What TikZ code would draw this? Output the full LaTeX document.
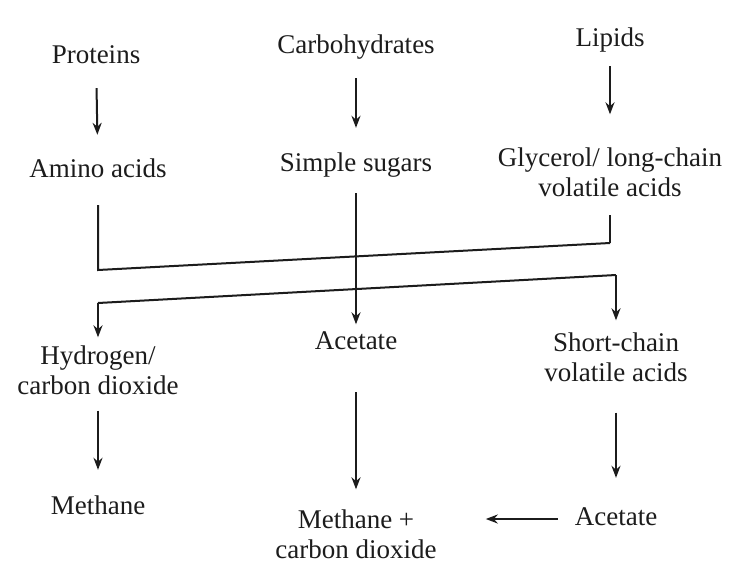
\documentclass[tikz,border=0pt]{standalone}
\usepackage{fontspec}
\setmainfont{Liberation Serif}
\usetikzlibrary{positioning,arrows.meta}
\definecolor{inkblack}{HTML}{1C1C1C}
\begin{document}
\begin{tikzpicture}[x=1pt, y=-1pt, font=\fontsize{27}{30}\selectfont,
  lbl/.style={inner sep=0pt, text=inkblack, text height=19pt, text depth=6pt},
  lbltwo/.style={inner sep=0pt, text=inkblack, align=center},
  flow/.style={-{Stealth[length=12pt,width=9pt]}, line width=2pt, inkblack, shorten <=20pt, shorten >=20pt},
  link/.style={line width=2pt, inkblack}]
  \useasboundingbox[fill=white] (0,0) rectangle (731,584);
  % substrates
  \node[lbl] (prot) at (96,57) {Proteins};
  \node[lbl] (carb) at (356,47) {Carbohydrates};
  \node[lbl] (lip) at (610,40) {Lipids};
  \node[lbl] (amino) at (98,171) {Amino acids};
  \node[lbl] (sugars) at (356,165) {Simple sugars};
  \node[lbltwo] (glyc) at (610,172) {Glycerol/ long-chain\\volatile acids};
  % intermediates
  \node[lbltwo] (hydro) at (98,370) {Hydrogen/\\carbon dioxide};
  \node[lbl] (acet) at (356,343) {Acetate};
  \node[lbltwo] (short) at (616,357) {Short-chain\\volatile acids};
  % products
  \node[lbl] (meth) at (98,508) {Methane};
  \node[lbltwo] (methplus) at (356,534) {Methane +\\carbon dioxide};
  \node[lbl] (acetr) at (616,519) {Acetate};
  \coordinate (b1l) at (98,270);
  \coordinate (b1r) at (610,243);
  \coordinate (b2l) at (98,303);
  \coordinate (b2r) at (616,275);
  \draw[flow, shorten <=18.5pt, shorten >=23.5pt] (prot) -- (amino);
  \draw[flow, shorten <=18.5pt, shorten >=24.5pt] (carb) -- (sugars);
  \draw[flow, shorten <=13.5pt, shorten >=33pt] (lip) -- (glyc);
  \draw[link, shorten <=21.5pt] (amino) -- (b1l) -- (b1r);
  \draw[link, shorten >=18pt] (b1r) -- (glyc);
  \draw[flow, shorten <=15.5pt, shorten >=6pt] (sugars) -- (acet);
  \draw[flow, shorten <=0pt, shorten >=8pt] (b2l) -- (hydro);
  \draw[link] (b2l) -- (b2r);
  \draw[flow, shorten <=0pt, shorten >=12pt] (b2r) -- (short);
  \draw[flow, shorten <=16pt, shorten >=25.5pt] (hydro) -- (meth);
  \draw[flow, shorten <=36.5pt] (acet) -- (methplus);
  \draw[flow, shorten <=31pt, shorten >=28.5pt] (short) -- (acetr);
  \draw[flow, shorten <=17pt, shorten >=49pt] (acetr) -- (acetr -| methplus.east);
\end{tikzpicture}
\end{document}
